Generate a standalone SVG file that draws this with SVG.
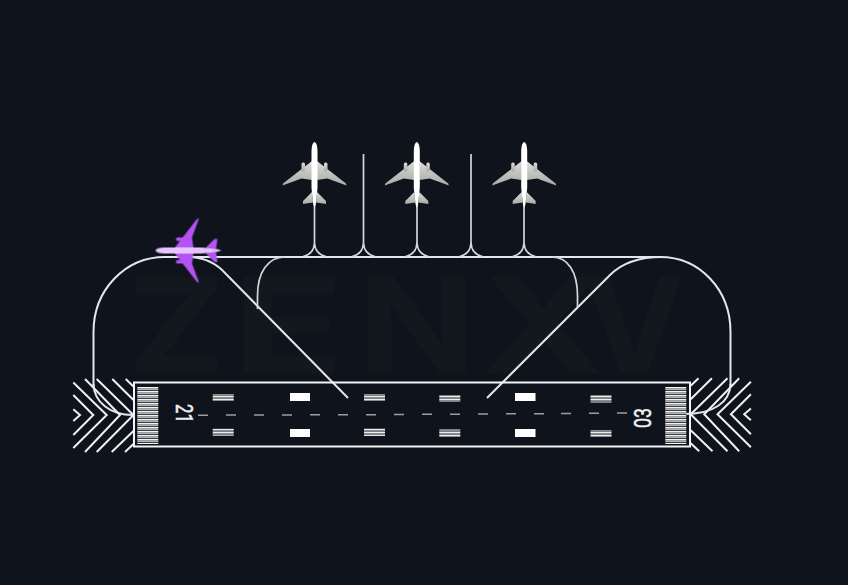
<svg xmlns="http://www.w3.org/2000/svg" width="848" height="585" viewBox="0 0 848 585">
<style>
.wm{font-family:Inter,"Liberation Sans",sans-serif;font-weight:700;font-size:132px;fill:#13181f}
.tw{fill:none;stroke:#e3e6ea;stroke-width:2}
.thin{fill:none;stroke:#d4d7dc;stroke-width:1.7}
.ch{fill:none;stroke:#eef0f2;stroke-width:2}
.rw{fill:none;stroke:#f2f3f5;stroke-width:2}
.num{font-family:Roboto,"Liberation Sans",sans-serif;font-size:24px;fill:#f0f0f0;stroke:#f0f0f0;stroke-width:0.5;text-anchor:middle}
.dash{stroke:#9a9da1;stroke-width:1.5}
.blk{fill:#fff}
.st{fill:url(#side)}
.thr{fill:url(#bars)}
</style>
<defs>
<pattern id="bars" width="21" height="4" patternUnits="userSpaceOnUse" y="387"><rect width="21" height="1.5" fill="#f4f4f4"/><rect y="1.5" width="21" height="1.5" fill="#b4b4b4"/><rect y="3" width="21" height="1" fill="#3a3e44"/></pattern>
<pattern id="side" width="21" height="3" patternUnits="userSpaceOnUse"><rect width="21" height="1.6" fill="#ececec"/><rect y="1.6" width="21" height="1.4" fill="#7c7f83"/></pattern>
<linearGradient id="wing" x1="0" y1="0" x2="0" y2="1"><stop offset="0" stop-color="#dcdcd8"/><stop offset="1" stop-color="#a8aaa7"/></linearGradient>
<filter id="soft" x="-10%" y="-10%" width="120%" height="120%"><feGaussianBlur stdDeviation="0.4"/></filter>
<g id="plane" filter="url(#soft)">
<path d="M-2.500,19 L-31.500,41.500 L-32,43.500 L-13,36.500 L-2.500,38 Z M2.500,19 L31.500,41.500 L32,43.500 L13,36.500 L2.500,38 Z"/>
<path d="M-2.500,50 L-11.500,59 L-11.500,62 L-1.500,60.500 Z M2.500,50 L11.500,59 L11.500,62 L1.500,60.500 Z"/>
<rect x="-13" y="20.500" width="3.500" height="9" rx="1.500"/><rect x="9.500" y="20.500" width="3.500" height="9" rx="1.500"/>
<path fill="currentColor" d="M0,0 C2.200,1 3,5 3,10 L3,46 L1.300,62 L0,66 L-1.300,62 L-3,46 L-3,10 C-3,5 -2.200,1 0,0 Z"/>
</g>
<g id="chevs">
<path class="ch" d="M73.300,409.300 L80,415 L73.300,421 M73.300,395 L93.300,415 L73.300,435 M73.300,382.500 L106.700,415 L73.300,448 M85,379 L120,415 L85,452 M96.700,379 L133.500,415 L96.700,452 M112.300,379 L133.500,400 M125.700,379 L133.500,386.500 M111.700,452 L133.500,431 M125,452 L133.500,444"/>
</g>
</defs>
<rect width="848" height="585" fill="#0f141c"/>
<g id="watermark" class="wm">
<text x="128" y="373" textLength="97" lengthAdjust="spacingAndGlyphs">Z</text><text x="232" y="373" textLength="112" lengthAdjust="spacingAndGlyphs">E</text><text x="358" y="373" textLength="118" lengthAdjust="spacingAndGlyphs">N</text><text x="482" y="373" textLength="122" lengthAdjust="spacingAndGlyphs">X</text><text x="583" y="373" textLength="102" lengthAdjust="spacingAndGlyphs">V</text>
</g>
<g id="connectors">
<path class="tw" d="M93.500,386 V332 C93.500,290 125,257 165,257 H660 C700,257 730.500,290 730.500,332 V386"/>
<path class="tw" d="M93.500,384 C94,402 110,415 133,415"/>
<path class="tw" d="M730.500,384 C730,402 714,414 684,414"/>
<path class="tw" d="M190,257 Q212,258 226,274 L348,398"/>
<path class="tw" d="M487,398 L610,275 Q628,257 662,257"/>
<path class="thin" d="M257.500,309 V296 C257.500,272 268,257 285,257"/>
<path class="thin" d="M577.500,308 V296 C577.500,272 568,257 552,257"/>
<path class="thin" d="M314.500,200 V243 Q314,254 303,256.500 M314.500,243 Q315,254 326,256.500"/>
<path class="thin" d="M363.500,154 V243 Q363,254 352,256.500 M363.500,243 Q364,254 375,256.500"/>
<path class="thin" d="M417,200 V243 Q416.500,254 405.500,256.500 M417,243 Q417.500,254 428.500,256.500"/>
<path class="thin" d="M471,154 V243 Q470.500,254 459.500,256.500 M471,243 Q471.500,254 482.500,256.500"/>
<path class="thin" d="M524,200 V243 Q523.500,254 512.500,256.500 M524,243 Q524.500,254 535.500,256.500"/>
</g>
<g id="runway">
<use href="#chevs"/>
<use href="#chevs" transform="translate(824.200,-0.800) scale(-1,1)"/>
<rect class="rw" x="134" y="382.500" width="556" height="64"/>
<rect class="thr" x="137.300" y="387" width="21" height="57"/>
<rect class="thr" x="665.300" y="387" width="21" height="57"/>
<text class="num" transform="translate(176,413.500) rotate(90)" textLength="19" lengthAdjust="spacingAndGlyphs">21</text>
<text class="num" transform="translate(651,418) rotate(-90)" textLength="20" lengthAdjust="spacingAndGlyphs">03</text>
<g class="dash"><path d="M198,415.300 H208 M226,415.100 H236 M254,415 H264 M282,414.900 H292 M310,414.800 H320 M338,414.700 H348 M366,414.700 H376 M394,414.500 H404 M422,414.300 H432 M450,414.200 H460 M478,414 H488 M506,413.800 H516 M534,413.700 H544 M561,413.500 H571 M589,413.300 H599 M617,413 H627"/></g>
<rect class="st" x="212.700" y="394" width="21" height="7"/><rect class="st" x="212.700" y="428.700" width="21" height="7"/>
<rect class="blk" x="290" y="393" width="20" height="8"/><rect class="blk" x="290" y="429" width="20" height="8"/>
<rect class="st" x="364" y="394" width="21" height="7"/><rect class="st" x="364" y="428.500" width="21" height="7.500"/>
<rect class="st" x="439.300" y="395" width="21" height="7"/><rect class="st" x="439.300" y="429.500" width="21" height="7.500"/>
<rect class="blk" x="515" y="393" width="20.500" height="8"/><rect class="blk" x="515" y="429" width="20.500" height="8"/>
<rect class="st" x="590.500" y="395" width="21" height="7.500"/><rect class="st" x="590.500" y="430" width="21" height="7"/>
</g>
<g id="plane-1"><use href="#plane" transform="translate(314.500,142)" fill="url(#wing)" color="#fff"/></g>
<g id="plane-2"><use href="#plane" transform="translate(416.800,142)" fill="url(#wing)" color="#fff"/></g>
<g id="plane-3"><use href="#plane" transform="translate(524.200,142)" fill="url(#wing)" color="#fff"/></g>
<g id="plane-active"><use href="#plane" transform="translate(155.500,250.500) rotate(-90)" fill="#b452f2" color="#e7c4ff"/></g>
</svg>
